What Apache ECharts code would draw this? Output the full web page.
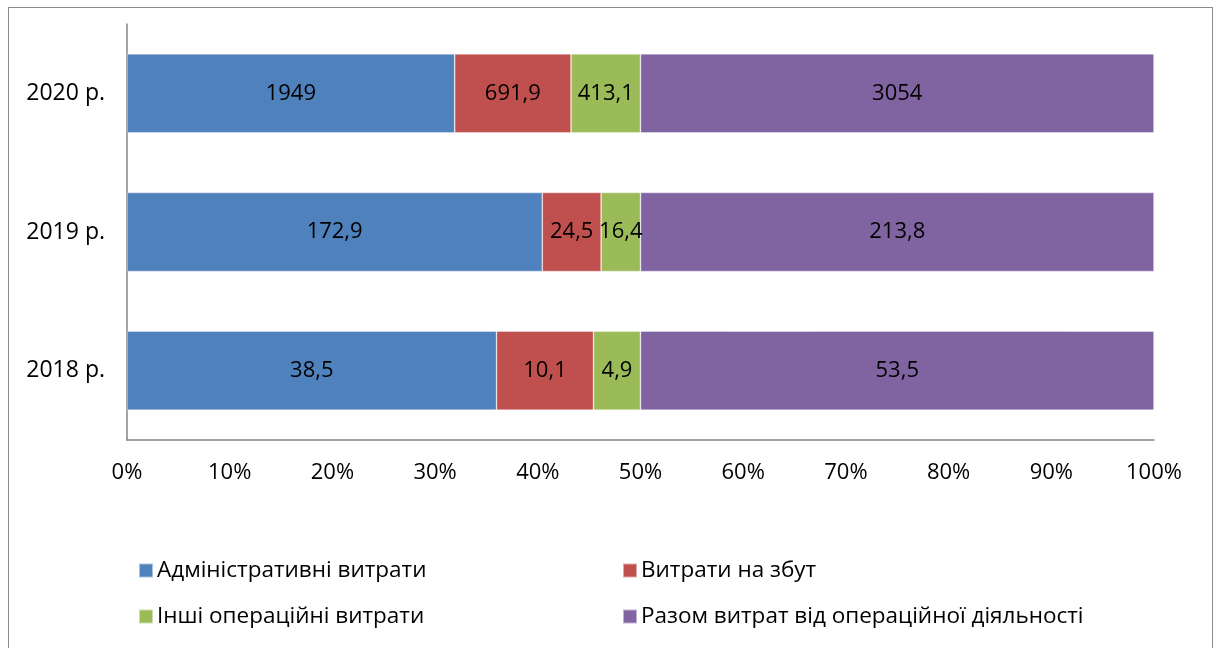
<!DOCTYPE html>
<html><head><meta charset="utf-8">
<script src="https://cdn.jsdelivr.net/npm/echarts@6/dist/echarts.min.js"></script>
<style>
html,body{margin:0;padding:0;background:#fff;}
#frame{position:absolute;left:8px;top:7px;width:1205px;height:660px;border:1.5px solid #8c8c8c;box-sizing:border-box;}
#c{position:absolute;left:0;top:0;width:1219px;height:648px;}
</style></head>
<body>
<div id="frame"></div>
<div id="c"></div>
<script>
const categories = ['2018 р.', '2019 р.', '2020 р.'];
const seriesNames = ['Адміністративні витрати', 'Витрати на збут', 'Інші операційні витрати', 'Разом витрат від операційної діяльності'];
const adminCosts = [38.5, 172.9, 1949];
const salesCosts = [10.1, 24.5, 691.9];
const otherCosts = [4.9, 16.4, 413.1];
const totalCosts = [53.5, 213.8, 3054];
const xTickLabels = ['0%','10%','20%','30%','40%','50%','60%','70%','80%','90%','100%'];
const colors = ['#4F81BD', '#C0504D', '#9BBB59', '#8064A2'];

const raw = [adminCosts, salesCosts, otherCosts, totalCosts];
const sums = categories.map((_, i) => raw.reduce((s, a) => s + a[i], 0));
const fmt = v => String(v).replace('.', ',');
const FONT = 'Open Sans';

const series = raw.map((arr, k) => ({
  name: seriesNames[k],
  type: 'bar',
  stack: 'all',
  barWidth: '57%',
  itemStyle: { color: colors[k], borderColor: 'rgba(255,255,255,0.5)', borderWidth: 0.7 },
  label: {
    show: true, position: 'inside', color: '#000', fontFamily: FONT, fontSize: 22,
    formatter: p => fmt(arr[p.dataIndex])
  },
  data: arr.map((v, i) => v / sums[i] * 100)
}));

const legendPos = [[133, 554], [617, 554], [133, 600], [617, 600]];
const legends = seriesNames.map((n, k) => ({
  data: [n], left: legendPos[k][0], top: legendPos[k][1],
  itemWidth: 14, itemHeight: 14, itemGap: 6, icon: 'rect',
  textStyle: { fontFamily: FONT, fontSize: 22.5, color: '#000', padding: [0,0,0,-1] },
  selectedMode: false
}));

const chart = echarts.init(document.getElementById('c'));
chart.setOption({
  animation: false,
  color: colors,
  textStyle: { fontFamily: FONT },
  grid: { left: 127, right: 65, top: 24, bottom: 208, containLabel: false },
  legend: legends,
  xAxis: {
    type: 'value', min: 0, max: 100, interval: 10,
    axisLine: { show: true, lineStyle: { color: '#868686', width: 1.5 } },
    axisTick: { show: false },
    splitLine: { show: false },
    axisLabel: { color: '#000', fontSize: 22, fontFamily: FONT, margin: 22,
      formatter: v => xTickLabels[Math.round(v / 10)] }
  },
  yAxis: {
    type: 'category', data: categories,
    axisLine: { show: true, lineStyle: { color: '#868686', width: 1.5 } },
    axisTick: { show: false },
    axisLabel: { color: '#000', fontSize: 23, fontFamily: FONT, margin: 22 }
  },
  series: series
});
</script>
</body></html>
